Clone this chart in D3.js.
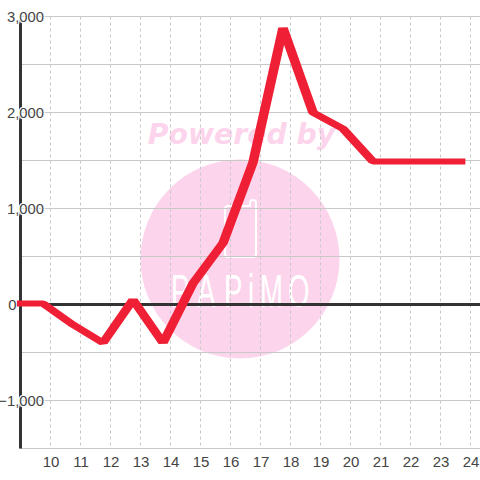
<!DOCTYPE html>
<html><head><meta charset="utf-8">
<script src="https://cdn.jsdelivr.net/npm/d3@7"></script>
<style>html,body{margin:0;padding:0;background:#fff}svg{display:block}</style>
</head><body><svg id="c" width="480" height="480"></svg>
<script>
const xTicks = [10,11,12,13,14,15,16,17,18,19,20,21,22,23,24];
const yLabelTicks = [-1000,0,1000,2000,3000];
const yGridTicks = [-1500,-1000,-500,0,500,1000,1500,2000,2500,3000];
const times = [8.88,9.75,10.75,11.75,12.75,13.75,14.75,15.75,16.75,17.75,18.75,19.75,20.75,21.75,22.75,23.83];
const values = [10,10,-210,-400,50,-400,220,640,1480,2880,2000,1830,1490,1490,1490,1490];

const svg = d3.select('#c');
const x = d3.scaleLinear().domain([10,24]).range([50.5,470.5]);
const y = d3.scaleLinear().domain([-1500,3000]).range([448.5,16.5]);
const L = 20, R = 480;
const ink = '#333', grid = '#c8c8c8', pink = '#fcd5ec', red = '#ef2035', txt = '#444';
const font = '"Liberation Sans", Arial, sans-serif';

// watermark
const wm = svg.append('g');
wm.append('circle').attr('cx',240).attr('cy',259).attr('r',99.5).attr('fill',pink);
wm.append('text').attr('x',241.5).attr('y',144).attr('text-anchor','middle')
  .attr('font-family','"DejaVu Sans"').attr('font-weight','bold').attr('font-style','italic')
  .attr('font-size',28.3).attr('fill',pink).text('Powered by');
wm.append('path').attr('d','M227 206 H250 V203 Q250 200 253 200 Q256 200 256 203 V254 Q256 257 253 257 H228 Q225 257 225 254 V208 Z')
  .attr('fill','none').attr('stroke','#fff').attr('stroke-width',2).attr('stroke-linejoin','round');
const logoStretch = 0.6;
const logoX = [171,197,224,248,260,288];
wm.append('g').attr('transform',`scale(${logoStretch},1)`).append('text')
  .attr('x',logoX.map(v=>v/logoStretch).join(' ')).attr('y',307)
  .attr('font-family','"Liberation Sans"').attr('font-size',46)
  .attr('fill','#fff').text('PAPiMO');

// grid
svg.append('g').selectAll('line').data(yGridTicks).join('line')
  .attr('x1',L).attr('x2',R).attr('y1',d=>y(d)).attr('y2',d=>y(d))
  .attr('stroke',grid).attr('stroke-width',1);
svg.append('g').selectAll('line').data(xTicks).join('line')
  .attr('x1',d=>x(d)).attr('x2',d=>x(d)).attr('y1',y(3000)).attr('y2',y(-1500))
  .attr('stroke',grid).attr('stroke-width',1).attr('stroke-dasharray','3 3');

// axes
svg.append('line').attr('x1',20.5).attr('x2',20.5).attr('y1',y(-1500)).attr('y2',y(3000))
  .attr('stroke',ink).attr('stroke-width',3);
svg.append('line').attr('x1',L).attr('x2',R).attr('y1',y(0)).attr('y2',y(0))
  .attr('stroke',ink).attr('stroke-width',3);

// y labels with white halo
svg.append('g').selectAll('text').data(yLabelTicks).join('text')
  .attr('x',d=>d===0?16.5:44).attr('y',d=>y(d)+5.5).attr('text-anchor','end')
  .attr('font-family',font).attr('font-size',14.8).attr('fill',txt)
  .attr('stroke','#fff').attr('stroke-width',2.5).attr('paint-order','stroke')
  .text(d=>d3.format(',')(d));

// x labels
svg.append('g').selectAll('text').data(xTicks).join('text')
  .attr('x',d=>x(d)+0.5).attr('y',466.5).attr('text-anchor','middle')
  .attr('font-family',font).attr('font-size',15).attr('fill',txt)
  .text(d=>d);

// line: drawn with a pen wider than it is tall
const penStretch = 1.6;
const line = d3.line().x(d=>x(d[0])/penStretch).y(d=>y(d[1]));
svg.append('g').attr('transform',`scale(${penStretch},1)`)
  .append('path').datum(times.map((t,i)=>[t,values[i]])).attr('d',line)
  .attr('fill','none').attr('stroke',red).attr('stroke-width',6).attr('stroke-linejoin','bevel');
</script></body></html>
